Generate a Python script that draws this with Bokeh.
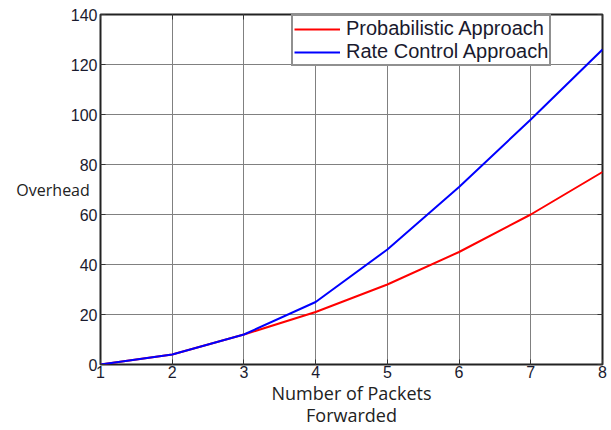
from bokeh.plotting import figure
from bokeh.models import Legend, LegendItem, LinearAxis, FixedTicker, Range1d
from bokeh.embed import file_html
from bokeh.resources import INLINE

packets = [1, 2, 3, 4, 5, 6, 7, 8]
probabilistic = [0, 4, 12, 21, 32, 45, 60, 77]
rate_control = [0, 4, 12, 25, 46, 71, 98, 126]
x_ticks = [1, 2, 3, 4, 5, 6, 7, 8]
y_ticks = [0, 20, 40, 60, 80, 100, 120, 140]

p = figure(width=611, height=430, output_backend="svg", toolbar_location=None,
           x_range=Range1d(1, 8), y_range=Range1d(0, 140),
           min_border_left=100, min_border_right=9, min_border_top=14, min_border_bottom=65)
p.background_fill_color = "white"
p.border_fill_color = "white"
p.outline_line_color = "#222222"
p.outline_line_width = 2

tick_font = "Liberation Sans"
for ax in [p.xaxis[0], p.yaxis[0]]:
    ax.axis_line_color = None
    ax.major_tick_in = 5
    ax.major_tick_out = 0
    ax.minor_tick_line_color = None
    ax.major_tick_line_color = "#333333"
    ax.major_label_text_font = tick_font
    ax.major_label_text_font_size = "16px"
    ax.major_label_text_color = "#1a1a2e"
    ax.axis_label_text_font = "Open Sans"
    ax.axis_label_text_font_style = "normal"
    ax.axis_label_text_color = "#222222"
p.xaxis[0].ticker = FixedTicker(ticks=x_ticks)
p.yaxis[0].ticker = FixedTicker(ticks=y_ticks)
p.xaxis[0].major_label_standoff = 1
p.yaxis[0].major_label_standoff = 3

p.xaxis[0].axis_label = "Number of Packets\nForwarded"
p.xaxis[0].axis_label_text_font_size = "18px"
p.xaxis[0].axis_label_standoff = 0
p.xaxis[0].axis_label_text_line_height = 0.95

p.yaxis[0].axis_label = "Overhead"
p.yaxis[0].axis_label_text_font_size = "16px"
p.yaxis[0].axis_label_orientation = "horizontal"
p.yaxis[0].axis_label_standoff = -22

for loc in ["right", "above"]:
    ax = LinearAxis(ticker=FixedTicker(ticks=x_ticks if loc == "above" else y_ticks))
    ax.axis_line_color = None
    ax.major_tick_in = 5
    ax.major_tick_out = 0
    ax.minor_tick_line_color = None
    ax.major_tick_line_color = "#333333"
    ax.major_label_text_font_size = "0px"
    ax.major_label_text_color = None
    ax.major_label_standoff = 0
    p.add_layout(ax, loc)

p.xgrid.ticker = FixedTicker(ticks=x_ticks)
p.ygrid.ticker = FixedTicker(ticks=y_ticks)
p.grid.grid_line_color = "#808080"
p.grid.grid_line_width = 1

r1 = p.line(packets, probabilistic, line_color="#ff0000", line_width=2)
r2 = p.line(packets, rate_control, line_color="#0000ff", line_width=2)

legend = Legend(items=[LegendItem(label="Probabilistic Approach", renderers=[r1]),
                       LegendItem(label="Rate Control Approach", renderers=[r2])],
                location=(191, 298))
legend.label_text_font = "Liberation Sans"
legend.label_text_font_size = "20px"
legend.label_text_color = "#1a1a2e"
legend.label_height = 18
legend.glyph_height = 14
legend.glyph_width = 46
legend.spacing = 0
legend.padding = 1
legend.margin = 0
legend.label_standoff = 6
legend.border_line_color = "#222222"
legend.border_line_width = 2
legend.background_fill_alpha = 1
p.add_layout(legend, "center")

open("out.html", "w").write(file_html(p, INLINE))
